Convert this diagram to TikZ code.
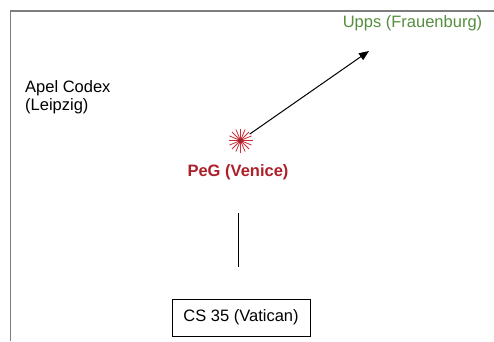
\documentclass[tikz,border=0pt]{standalone}
\usepackage{fontspec}
\setmainfont{Liberation Sans}
\usetikzlibrary{arrows.meta}
\definecolor{framegray}{RGB}{125,125,125}
\definecolor{uppsgreen}{RGB}{84,142,62}
\definecolor{pegred}{RGB}{172,32,42}
\definecolor{starred}{RGB}{205,45,55}
\tikzset{
  lbl/.style={font=\fontsize{16.5}{18}\selectfont, inner sep=0pt},
  conn/.style={line width=1pt, black},
}
\begin{document}
\begin{tikzpicture}[x=1pt,y=-1pt]
\useasboundingbox (0,0) rectangle (494,341);
% frame
\draw[framegray, line width=1.5pt] (494,11) -- (10.5,11) -- (10.5,341);
% labels
\node[lbl, text=uppsgreen, anchor=base] (upps) at (412.5,27) {Upps (Frauenburg)};
\node[lbl, anchor=base west] (apel1) at (25,92) {Apel Codex};
\node[lbl, anchor=base west] (apel2) at (25,110) {(Leipzig)};
\node[lbl, font=\fontsize{16.5}{18}\selectfont\bfseries, text=pegred, anchor=base] (peg) at (238,176) {PeG (Venice)};
% star
\node[circle, minimum size=22pt, inner sep=0pt] (star) at (240.5,140.5) {};
\foreach \a in {0,22.5,...,359} {
  \draw[starred, line width=0.8pt] (star.center) -- ++(\a:12);
}
\fill[starred!80!black] (star.center) circle (2.5);
% arrow
\coordinate (tip) at (369,51);
\draw[conn, -{Triangle[length=10pt,width=8pt]}] (star) -- (tip);
% box
\node[lbl, draw, line width=1pt, minimum width=138pt, minimum height=37pt] (cs) at (241,317.5) {CS 35 (Vatican)};
% vertical line
\coordinate (vtop) at (238,213);
\coordinate (vbot) at (238,267);
\draw[conn] (vtop) -- (vbot);
\end{tikzpicture}
\end{document}
